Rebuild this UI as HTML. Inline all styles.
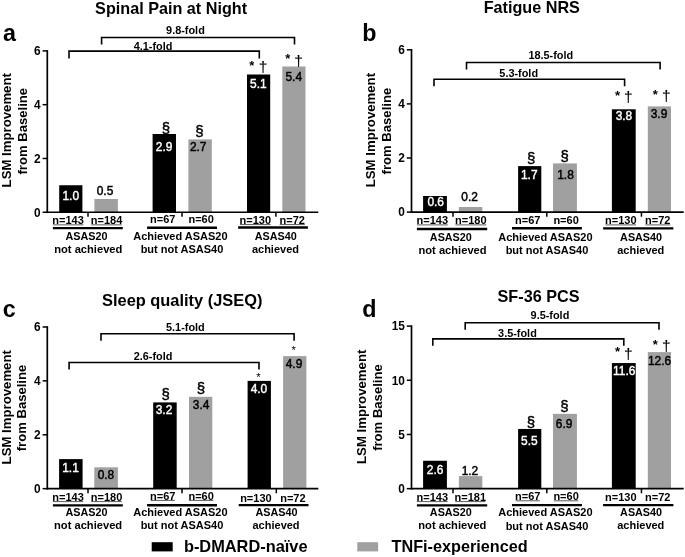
<!DOCTYPE html>
<html><head><meta charset="utf-8"><title>Figure</title>
<style>
html,body{margin:0;padding:0;background:#fff;}
svg{display:block;font-family:"Liberation Sans", Arial, Helvetica, sans-serif;}
</style></head>
<body>
<svg width="685" height="557" viewBox="0 0 685 557">
<rect width="685" height="557" fill="#fff"/>
<rect x="59.20" y="185.25" width="23.20" height="27.00" fill="#000"/>
<rect x="94.40" y="199.00" width="23.50" height="13.25" fill="#a0a0a0"/>
<rect x="152.60" y="134.00" width="23.40" height="78.25" fill="#000"/>
<rect x="188.40" y="139.40" width="23.40" height="72.85" fill="#a0a0a0"/>
<rect x="247.00" y="74.50" width="23.20" height="137.75" fill="#000"/>
<rect x="282.30" y="66.50" width="23.20" height="145.75" fill="#a0a0a0"/>
<text x="70.80" y="200.20" font-size="11.95" text-anchor="middle" fill="#fff" font-weight="normal" stroke="#fff" stroke-width="0.4">1.0</text>
<text x="105.00" y="194.80" font-size="11.95" text-anchor="middle" fill="#000" font-weight="normal" stroke="#000" stroke-width="0.45">0.5</text>
<text x="164.10" y="150.60" font-size="11.95" text-anchor="middle" fill="#fff" font-weight="normal" stroke="#fff" stroke-width="0.4">2.9</text>
<text x="198.20" y="150.80" font-size="11.95" text-anchor="middle" fill="#000" font-weight="normal" stroke="#000" stroke-width="0.45">2.7</text>
<text x="258.35" y="87.50" font-size="11.95" text-anchor="middle" fill="#fff" font-weight="normal" stroke="#fff" stroke-width="0.4">5.1</text>
<text x="293.75" y="80.90" font-size="11.95" text-anchor="middle" fill="#000" font-weight="normal" stroke="#000" stroke-width="0.45">5.4</text>
<text x="166.00" y="132.95" font-size="15.0" text-anchor="middle" fill="#000" font-weight="normal" stroke="#000" stroke-width="0.45">§</text>
<text x="199.30" y="135.65" font-size="15.0" text-anchor="middle" fill="#000" font-weight="normal" stroke="#000" stroke-width="0.45">§</text>
<text x="251.70" y="69.75" font-size="13" text-anchor="middle" fill="#000" font-weight="bold">*</text>
<text x="287.80" y="63.15" font-size="13" text-anchor="middle" fill="#000" font-weight="bold">*</text>
<text x="263.00" y="71.55" font-size="15.5" text-anchor="middle" fill="#000" font-weight="normal" stroke="#000" stroke-width="0.12">†</text>
<text x="298.50" y="65.55" font-size="15.5" text-anchor="middle" fill="#000" font-weight="normal" stroke="#000" stroke-width="0.12">†</text>
<line x1="47.30" y1="50.15" x2="47.30" y2="213.10" stroke="#000" stroke-width="1.7" stroke-linecap="butt"/>
<line x1="46.45" y1="212.25" x2="318.30" y2="212.25" stroke="#000" stroke-width="1.7" stroke-linecap="butt"/>
<line x1="42.60" y1="212.25" x2="47.30" y2="212.25" stroke="#000" stroke-width="1.5" stroke-linecap="butt"/>
<text transform="translate(40.70,216.85) scale(0.885,1)" font-size="13.4" text-anchor="end" font-weight="bold">0</text>
<line x1="42.60" y1="158.47" x2="47.30" y2="158.47" stroke="#000" stroke-width="1.5" stroke-linecap="butt"/>
<text transform="translate(40.70,162.90) scale(0.885,1)" font-size="13.4" text-anchor="end" font-weight="bold">2</text>
<line x1="42.60" y1="104.68" x2="47.30" y2="104.68" stroke="#000" stroke-width="1.5" stroke-linecap="butt"/>
<text transform="translate(40.70,108.95) scale(0.885,1)" font-size="13.4" text-anchor="end" font-weight="bold">4</text>
<line x1="42.60" y1="50.90" x2="47.30" y2="50.90" stroke="#000" stroke-width="1.5" stroke-linecap="butt"/>
<text transform="translate(40.70,55.00) scale(0.885,1)" font-size="13.4" text-anchor="end" font-weight="bold">6</text>
<line x1="88.00" y1="212.25" x2="88.00" y2="216.85" stroke="#000" stroke-width="1.5" stroke-linecap="butt"/>
<text x="68.10" y="224.30" font-size="11.0" text-anchor="middle" font-weight="bold">n=143</text>
<text x="106.50" y="224.30" font-size="11.0" text-anchor="middle" font-weight="bold">n=184</text>
<line x1="52.90" y1="224.85" x2="83.30" y2="224.85" stroke="#000" stroke-width="0.65" stroke-linecap="butt"/>
<line x1="91.20" y1="224.85" x2="121.80" y2="224.85" stroke="#000" stroke-width="0.65" stroke-linecap="butt"/>
<line x1="52.90" y1="228.15" x2="122.80" y2="228.15" stroke="#000" stroke-width="2.4" stroke-linecap="butt"/>
<text x="86.55" y="239.95" font-size="10.8" text-anchor="middle" fill="#000" font-weight="bold">ASAS20</text>
<text x="88.30" y="253.00" font-size="11.15" text-anchor="middle" fill="#000" font-weight="bold">not achieved</text>
<line x1="182.04" y1="212.25" x2="182.04" y2="216.85" stroke="#000" stroke-width="1.5" stroke-linecap="butt"/>
<text x="162.78" y="223.40" font-size="11.0" text-anchor="middle" font-weight="bold">n=67</text>
<text x="201.12" y="223.40" font-size="11.0" text-anchor="middle" font-weight="bold">n=60</text>
<line x1="147.10" y1="227.75" x2="217.00" y2="227.75" stroke="#000" stroke-width="2.4" stroke-linecap="butt"/>
<text x="180.40" y="239.55" font-size="11.0" text-anchor="middle" fill="#000" font-weight="bold">Achieved ASAS20</text>
<text x="182.00" y="252.75" font-size="11.0" text-anchor="middle" fill="#000" font-weight="bold">but not ASAS40</text>
<line x1="275.90" y1="212.25" x2="275.90" y2="216.85" stroke="#000" stroke-width="1.5" stroke-linecap="butt"/>
<text x="255.27" y="224.30" font-size="11.0" text-anchor="middle" font-weight="bold">n=130</text>
<text x="292.30" y="224.30" font-size="11.0" text-anchor="middle" font-weight="bold">n=72</text>
<line x1="239.85" y1="224.60" x2="270.70" y2="224.60" stroke="#000" stroke-width="0.65" stroke-linecap="butt"/>
<line x1="279.70" y1="224.60" x2="304.90" y2="224.60" stroke="#000" stroke-width="0.65" stroke-linecap="butt"/>
<line x1="238.10" y1="227.55" x2="307.90" y2="227.55" stroke="#000" stroke-width="2.4" stroke-linecap="butt"/>
<text x="275.80" y="239.55" font-size="10.8" text-anchor="middle" fill="#000" font-weight="bold">ASAS40</text>
<text x="275.45" y="252.75" font-size="11.0" text-anchor="middle" fill="#000" font-weight="bold">achieved</text>
<polyline points="69.00,58.60 69.00,51.10 259.30,51.10 259.30,58.60" fill="none" stroke="#000" stroke-width="1.6" stroke-linejoin="miter"/>
<text x="153.10" y="50.00" font-size="10.9" text-anchor="middle" fill="#000" font-weight="bold">4.1-fold</text>
<polyline points="101.60,44.50 101.60,37.50 294.50,37.50 294.50,44.50" fill="none" stroke="#000" stroke-width="1.6" stroke-linejoin="miter"/>
<text x="185.45" y="33.60" font-size="10.9" text-anchor="middle" fill="#000" font-weight="bold">9.8-fold</text>
<text x="171.10" y="13.60" font-size="16.2" text-anchor="middle" fill="#000" font-weight="bold">Spinal Pain at Night</text>
<text x="3.10" y="40.60" font-size="23.3" text-anchor="start" fill="#000" font-weight="bold">a</text>
<text transform="translate(11.10,130.25) rotate(-90)" font-size="13.2" text-anchor="middle" font-weight="bold">LSM Improvement</text>
<text transform="translate(26.65,131.25) rotate(-90)" font-size="13.1" text-anchor="middle" font-weight="bold">from Baseline</text>
<rect x="423.10" y="196.00" width="23.80" height="16.10" fill="#000"/>
<rect x="458.90" y="207.00" width="23.40" height="5.10" fill="#a0a0a0"/>
<rect x="518.10" y="166.10" width="23.20" height="46.00" fill="#000"/>
<rect x="553.00" y="163.40" width="23.90" height="48.70" fill="#a0a0a0"/>
<rect x="611.90" y="109.30" width="23.80" height="102.80" fill="#000"/>
<rect x="647.80" y="106.40" width="23.20" height="105.70" fill="#a0a0a0"/>
<text x="435.70" y="206.30" font-size="11.95" text-anchor="middle" fill="#fff" font-weight="normal" stroke="#fff" stroke-width="0.4">0.6</text>
<text x="469.60" y="200.50" font-size="11.95" text-anchor="middle" fill="#000" font-weight="normal" stroke="#000" stroke-width="0.45">0.2</text>
<text x="529.30" y="179.00" font-size="11.95" text-anchor="middle" fill="#fff" font-weight="normal" stroke="#fff" stroke-width="0.4">1.7</text>
<text x="565.50" y="178.80" font-size="11.95" text-anchor="middle" fill="#000" font-weight="normal" stroke="#000" stroke-width="0.45">1.8</text>
<text x="623.95" y="120.00" font-size="11.95" text-anchor="middle" fill="#fff" font-weight="normal" stroke="#fff" stroke-width="0.4">3.8</text>
<text x="659.00" y="118.00" font-size="11.95" text-anchor="middle" fill="#000" font-weight="normal" stroke="#000" stroke-width="0.45">3.9</text>
<text x="531.10" y="163.25" font-size="15.0" text-anchor="middle" fill="#000" font-weight="normal" stroke="#000" stroke-width="0.45">§</text>
<text x="564.60" y="160.85" font-size="15.0" text-anchor="middle" fill="#000" font-weight="normal" stroke="#000" stroke-width="0.45">§</text>
<text x="617.50" y="100.35" font-size="13" text-anchor="middle" fill="#000" font-weight="bold">*</text>
<text x="655.20" y="99.05" font-size="13" text-anchor="middle" fill="#000" font-weight="bold">*</text>
<text x="628.20" y="102.45" font-size="15.5" text-anchor="middle" fill="#000" font-weight="normal" stroke="#000" stroke-width="0.12">†</text>
<text x="666.30" y="100.85" font-size="15.5" text-anchor="middle" fill="#000" font-weight="normal" stroke="#000" stroke-width="0.12">†</text>
<line x1="411.50" y1="49.05" x2="411.50" y2="212.95" stroke="#000" stroke-width="1.7" stroke-linecap="butt"/>
<line x1="410.65" y1="212.10" x2="683.70" y2="212.10" stroke="#000" stroke-width="1.7" stroke-linecap="butt"/>
<line x1="406.80" y1="212.10" x2="411.50" y2="212.10" stroke="#000" stroke-width="1.5" stroke-linecap="butt"/>
<text transform="translate(404.90,216.45) scale(0.885,1)" font-size="13.4" text-anchor="end" font-weight="bold">0</text>
<line x1="406.80" y1="158.00" x2="411.50" y2="158.00" stroke="#000" stroke-width="1.5" stroke-linecap="butt"/>
<text transform="translate(404.90,162.18) scale(0.885,1)" font-size="13.4" text-anchor="end" font-weight="bold">2</text>
<line x1="406.80" y1="103.90" x2="411.50" y2="103.90" stroke="#000" stroke-width="1.5" stroke-linecap="butt"/>
<text transform="translate(404.90,107.92) scale(0.885,1)" font-size="13.4" text-anchor="end" font-weight="bold">4</text>
<line x1="406.80" y1="49.80" x2="411.50" y2="49.80" stroke="#000" stroke-width="1.5" stroke-linecap="butt"/>
<text transform="translate(404.90,53.65) scale(0.885,1)" font-size="13.4" text-anchor="end" font-weight="bold">6</text>
<line x1="453.00" y1="212.10" x2="453.00" y2="216.70" stroke="#000" stroke-width="1.5" stroke-linecap="butt"/>
<text x="432.30" y="224.20" font-size="11.0" text-anchor="middle" font-weight="bold">n=143</text>
<text x="470.80" y="224.20" font-size="11.0" text-anchor="middle" font-weight="bold">n=180</text>
<line x1="416.90" y1="224.90" x2="447.70" y2="224.90" stroke="#000" stroke-width="0.65" stroke-linecap="butt"/>
<line x1="455.40" y1="224.90" x2="486.20" y2="224.90" stroke="#000" stroke-width="0.65" stroke-linecap="butt"/>
<line x1="416.90" y1="229.00" x2="487.20" y2="229.00" stroke="#000" stroke-width="2.4" stroke-linecap="butt"/>
<text x="450.85" y="241.35" font-size="10.8" text-anchor="middle" fill="#000" font-weight="bold">ASAS20</text>
<text x="452.55" y="254.25" font-size="11.15" text-anchor="middle" fill="#000" font-weight="bold">not achieved</text>
<line x1="546.80" y1="212.10" x2="546.80" y2="216.70" stroke="#000" stroke-width="1.5" stroke-linecap="butt"/>
<text x="527.75" y="223.75" font-size="11.0" text-anchor="middle" font-weight="bold">n=67</text>
<text x="566.10" y="223.75" font-size="11.0" text-anchor="middle" font-weight="bold">n=60</text>
<line x1="512.00" y1="228.20" x2="581.90" y2="228.20" stroke="#000" stroke-width="2.4" stroke-linecap="butt"/>
<text x="545.40" y="241.10" font-size="11.0" text-anchor="middle" fill="#000" font-weight="bold">Achieved ASAS20</text>
<text x="547.00" y="254.00" font-size="11.0" text-anchor="middle" fill="#000" font-weight="bold">but not ASAS40</text>
<line x1="641.45" y1="212.10" x2="641.45" y2="216.70" stroke="#000" stroke-width="1.5" stroke-linecap="butt"/>
<text x="620.75" y="224.15" font-size="11.0" text-anchor="middle" font-weight="bold">n=130</text>
<text x="657.80" y="224.15" font-size="11.0" text-anchor="middle" font-weight="bold">n=72</text>
<line x1="605.50" y1="224.90" x2="636.00" y2="224.90" stroke="#000" stroke-width="0.65" stroke-linecap="butt"/>
<line x1="645.30" y1="224.90" x2="670.30" y2="224.90" stroke="#000" stroke-width="0.65" stroke-linecap="butt"/>
<line x1="603.10" y1="228.40" x2="673.40" y2="228.40" stroke="#000" stroke-width="2.4" stroke-linecap="butt"/>
<text x="641.10" y="240.95" font-size="10.8" text-anchor="middle" fill="#000" font-weight="bold">ASAS40</text>
<text x="640.80" y="253.95" font-size="11.0" text-anchor="middle" fill="#000" font-weight="bold">achieved</text>
<polyline points="434.00,86.20 434.00,79.20 624.60,79.20 624.60,86.20" fill="none" stroke="#000" stroke-width="1.6" stroke-linejoin="miter"/>
<text x="518.70" y="77.40" font-size="10.9" text-anchor="middle" fill="#000" font-weight="bold">5.3-fold</text>
<polyline points="466.50,69.50 466.50,62.50 660.10,62.50 660.10,69.50" fill="none" stroke="#000" stroke-width="1.6" stroke-linejoin="miter"/>
<text x="550.80" y="59.00" font-size="10.9" text-anchor="middle" fill="#000" font-weight="bold">18.5-fold</text>
<text x="531.80" y="13.20" font-size="16.2" text-anchor="middle" fill="#000" font-weight="bold">Fatigue NRS</text>
<text x="362.30" y="40.70" font-size="23.3" text-anchor="start" fill="#000" font-weight="bold">b</text>
<text transform="translate(374.60,130.10) rotate(-90)" font-size="13.2" text-anchor="middle" font-weight="bold">LSM Improvement</text>
<text transform="translate(390.90,131.10) rotate(-90)" font-size="13.1" text-anchor="middle" font-weight="bold">from Baseline</text>
<rect x="59.10" y="459.10" width="23.50" height="29.55" fill="#000"/>
<rect x="94.30" y="467.30" width="23.60" height="21.35" fill="#a0a0a0"/>
<rect x="153.20" y="402.40" width="23.50" height="86.25" fill="#000"/>
<rect x="189.00" y="396.80" width="23.30" height="91.85" fill="#a0a0a0"/>
<rect x="247.60" y="380.90" width="23.30" height="107.75" fill="#000"/>
<rect x="283.10" y="356.10" width="23.30" height="132.55" fill="#a0a0a0"/>
<text x="70.55" y="471.80" font-size="11.95" text-anchor="middle" fill="#fff" font-weight="normal" stroke="#fff" stroke-width="0.4">1.1</text>
<text x="105.95" y="479.40" font-size="11.95" text-anchor="middle" fill="#000" font-weight="normal" stroke="#000" stroke-width="0.45">0.8</text>
<text x="164.00" y="414.30" font-size="11.95" text-anchor="middle" fill="#fff" font-weight="normal" stroke="#fff" stroke-width="0.4">3.2</text>
<text x="201.10" y="409.00" font-size="11.95" text-anchor="middle" fill="#000" font-weight="normal" stroke="#000" stroke-width="0.45">3.4</text>
<text x="258.95" y="392.90" font-size="11.95" text-anchor="middle" fill="#fff" font-weight="normal" stroke="#fff" stroke-width="0.4">4.0</text>
<text x="294.00" y="368.40" font-size="11.95" text-anchor="middle" fill="#000" font-weight="normal" stroke="#000" stroke-width="0.45">4.9</text>
<text x="165.60" y="398.65" font-size="15.0" text-anchor="middle" fill="#000" font-weight="normal" stroke="#000" stroke-width="0.45">§</text>
<text x="200.80" y="392.75" font-size="15.0" text-anchor="middle" fill="#000" font-weight="normal" stroke="#000" stroke-width="0.45">§</text>
<text x="258.40" y="380.89" font-size="11.3" text-anchor="middle" fill="#000" font-weight="normal">*</text>
<text x="293.80" y="354.49" font-size="11.3" text-anchor="middle" fill="#000" font-weight="normal">*</text>
<line x1="47.30" y1="326.25" x2="47.30" y2="489.50" stroke="#000" stroke-width="1.7" stroke-linecap="butt"/>
<line x1="46.45" y1="488.65" x2="318.30" y2="488.65" stroke="#000" stroke-width="1.7" stroke-linecap="butt"/>
<line x1="42.60" y1="488.65" x2="47.30" y2="488.65" stroke="#000" stroke-width="1.5" stroke-linecap="butt"/>
<text transform="translate(40.70,493.00) scale(0.885,1)" font-size="13.4" text-anchor="end" font-weight="bold">0</text>
<line x1="42.60" y1="434.77" x2="47.30" y2="434.77" stroke="#000" stroke-width="1.5" stroke-linecap="butt"/>
<text transform="translate(40.70,438.95) scale(0.885,1)" font-size="13.4" text-anchor="end" font-weight="bold">2</text>
<line x1="42.60" y1="380.88" x2="47.30" y2="380.88" stroke="#000" stroke-width="1.5" stroke-linecap="butt"/>
<text transform="translate(40.70,384.90) scale(0.885,1)" font-size="13.4" text-anchor="end" font-weight="bold">4</text>
<line x1="42.60" y1="327.00" x2="47.30" y2="327.00" stroke="#000" stroke-width="1.5" stroke-linecap="butt"/>
<text transform="translate(40.70,330.85) scale(0.885,1)" font-size="13.4" text-anchor="end" font-weight="bold">6</text>
<line x1="88.00" y1="488.65" x2="88.00" y2="493.25" stroke="#000" stroke-width="1.5" stroke-linecap="butt"/>
<text x="68.10" y="500.85" font-size="11.0" text-anchor="middle" font-weight="bold">n=143</text>
<text x="106.50" y="500.85" font-size="11.0" text-anchor="middle" font-weight="bold">n=180</text>
<line x1="52.90" y1="501.60" x2="83.30" y2="501.60" stroke="#000" stroke-width="0.65" stroke-linecap="butt"/>
<line x1="91.20" y1="501.60" x2="121.80" y2="501.60" stroke="#000" stroke-width="0.65" stroke-linecap="butt"/>
<line x1="52.90" y1="505.35" x2="122.80" y2="505.35" stroke="#000" stroke-width="2.4" stroke-linecap="butt"/>
<text x="86.55" y="516.10" font-size="10.8" text-anchor="middle" fill="#000" font-weight="bold">ASAS20</text>
<text x="88.10" y="529.20" font-size="11.15" text-anchor="middle" fill="#000" font-weight="bold">not achieved</text>
<line x1="182.04" y1="488.65" x2="182.04" y2="493.25" stroke="#000" stroke-width="1.5" stroke-linecap="butt"/>
<text x="162.78" y="499.70" font-size="11.0" text-anchor="middle" font-weight="bold">n=67</text>
<text x="201.12" y="499.70" font-size="11.0" text-anchor="middle" font-weight="bold">n=60</text>
<line x1="150.75" y1="500.40" x2="174.80" y2="500.40" stroke="#000" stroke-width="0.65" stroke-linecap="butt"/>
<line x1="188.90" y1="500.40" x2="213.35" y2="500.40" stroke="#000" stroke-width="0.65" stroke-linecap="butt"/>
<line x1="147.10" y1="505.25" x2="217.00" y2="505.25" stroke="#000" stroke-width="2.4" stroke-linecap="butt"/>
<text x="180.40" y="516.10" font-size="11.0" text-anchor="middle" fill="#000" font-weight="bold">Achieved ASAS20</text>
<text x="182.00" y="528.95" font-size="11.0" text-anchor="middle" fill="#000" font-weight="bold">but not ASAS40</text>
<line x1="276.32" y1="488.65" x2="276.32" y2="493.25" stroke="#000" stroke-width="1.5" stroke-linecap="butt"/>
<text x="255.88" y="501.55" font-size="11.0" text-anchor="middle" font-weight="bold">n=130</text>
<text x="292.90" y="501.55" font-size="11.0" text-anchor="middle" font-weight="bold">n=72</text>
<line x1="238.70" y1="505.10" x2="308.50" y2="505.10" stroke="#000" stroke-width="2.4" stroke-linecap="butt"/>
<text x="276.40" y="516.35" font-size="10.8" text-anchor="middle" fill="#000" font-weight="bold">ASAS40</text>
<text x="276.05" y="529.35" font-size="11.0" text-anchor="middle" fill="#000" font-weight="bold">achieved</text>
<polyline points="69.10,369.50 69.10,362.50 259.00,362.50 259.00,369.50" fill="none" stroke="#000" stroke-width="1.6" stroke-linejoin="miter"/>
<text x="153.00" y="359.50" font-size="10.9" text-anchor="middle" fill="#000" font-weight="bold">2.6-fold</text>
<polyline points="101.00,340.70 101.00,333.70 294.10,333.70 294.10,340.70" fill="none" stroke="#000" stroke-width="1.6" stroke-linejoin="miter"/>
<text x="185.40" y="330.50" font-size="10.9" text-anchor="middle" fill="#000" font-weight="bold">5.1-fold</text>
<text x="182.20" y="306.20" font-size="16.4" text-anchor="middle" fill="#000" font-weight="bold">Sleep quality (JSEQ)</text>
<text x="2.70" y="316.50" font-size="23.3" text-anchor="start" fill="#000" font-weight="bold">c</text>
<text transform="translate(10.70,407.25) rotate(-90)" font-size="13.2" text-anchor="middle" font-weight="bold">LSM Improvement</text>
<text transform="translate(26.15,408.01) rotate(-90)" font-size="13.1" text-anchor="middle" font-weight="bold">from Baseline</text>
<rect x="423.10" y="460.75" width="23.80" height="27.90" fill="#000"/>
<rect x="458.90" y="476.10" width="23.40" height="12.55" fill="#a0a0a0"/>
<rect x="518.10" y="428.95" width="23.20" height="59.70" fill="#000"/>
<rect x="553.00" y="413.85" width="23.90" height="74.80" fill="#a0a0a0"/>
<rect x="611.90" y="363.05" width="23.80" height="125.60" fill="#000"/>
<rect x="647.80" y="352.10" width="23.20" height="136.55" fill="#a0a0a0"/>
<text x="435.10" y="473.95" font-size="11.95" text-anchor="middle" fill="#fff" font-weight="normal" stroke="#fff" stroke-width="0.4">2.6</text>
<text x="469.95" y="474.80" font-size="11.95" text-anchor="middle" fill="#000" font-weight="normal" stroke="#000" stroke-width="0.45">1.2</text>
<text x="529.40" y="444.70" font-size="11.95" text-anchor="middle" fill="#fff" font-weight="normal" stroke="#fff" stroke-width="0.4">5.5</text>
<text x="564.15" y="428.10" font-size="11.95" text-anchor="middle" fill="#000" font-weight="normal" stroke="#000" stroke-width="0.45">6.9</text>
<text x="624.30" y="375.00" font-size="11.95" text-anchor="middle" fill="#fff" font-weight="normal" stroke="#fff" stroke-width="0.4">11.6</text>
<text x="659.55" y="364.95" font-size="11.95" text-anchor="middle" fill="#000" font-weight="normal" stroke="#000" stroke-width="0.45">12.6</text>
<text x="530.80" y="427.15" font-size="15.0" text-anchor="middle" fill="#000" font-weight="normal" stroke="#000" stroke-width="0.45">§</text>
<text x="564.40" y="411.45" font-size="15.0" text-anchor="middle" fill="#000" font-weight="normal" stroke="#000" stroke-width="0.45">§</text>
<text x="617.50" y="356.35" font-size="13" text-anchor="middle" fill="#000" font-weight="bold">*</text>
<text x="655.20" y="348.55" font-size="13" text-anchor="middle" fill="#000" font-weight="bold">*</text>
<text x="628.20" y="358.55" font-size="15.5" text-anchor="middle" fill="#000" font-weight="normal" stroke="#000" stroke-width="0.12">†</text>
<text x="666.30" y="350.90" font-size="15.5" text-anchor="middle" fill="#000" font-weight="normal" stroke="#000" stroke-width="0.12">†</text>
<line x1="411.50" y1="325.35" x2="411.50" y2="489.50" stroke="#000" stroke-width="1.7" stroke-linecap="butt"/>
<line x1="410.65" y1="488.65" x2="683.70" y2="488.65" stroke="#000" stroke-width="1.7" stroke-linecap="butt"/>
<line x1="406.80" y1="488.65" x2="411.50" y2="488.65" stroke="#000" stroke-width="1.5" stroke-linecap="butt"/>
<text transform="translate(404.90,493.35) scale(0.885,1)" font-size="13.4" text-anchor="end" font-weight="bold">0</text>
<line x1="406.80" y1="434.47" x2="411.50" y2="434.47" stroke="#000" stroke-width="1.5" stroke-linecap="butt"/>
<text transform="translate(404.90,439.00) scale(0.885,1)" font-size="13.4" text-anchor="end" font-weight="bold">5</text>
<line x1="406.80" y1="380.28" x2="411.50" y2="380.28" stroke="#000" stroke-width="1.5" stroke-linecap="butt"/>
<text transform="translate(404.90,384.65) scale(0.885,1)" font-size="13.4" text-anchor="end" font-weight="bold">10</text>
<line x1="406.80" y1="326.10" x2="411.50" y2="326.10" stroke="#000" stroke-width="1.5" stroke-linecap="butt"/>
<text transform="translate(404.90,330.30) scale(0.885,1)" font-size="13.4" text-anchor="end" font-weight="bold">15</text>
<line x1="453.00" y1="488.65" x2="453.00" y2="493.25" stroke="#000" stroke-width="1.5" stroke-linecap="butt"/>
<text x="432.30" y="500.90" font-size="11.0" text-anchor="middle" font-weight="bold">n=143</text>
<text x="470.35" y="500.90" font-size="11.0" text-anchor="middle" font-weight="bold">n=181</text>
<line x1="416.90" y1="501.60" x2="447.70" y2="501.60" stroke="#000" stroke-width="0.65" stroke-linecap="butt"/>
<line x1="455.40" y1="501.60" x2="485.30" y2="501.60" stroke="#000" stroke-width="0.65" stroke-linecap="butt"/>
<line x1="416.90" y1="505.35" x2="487.20" y2="505.35" stroke="#000" stroke-width="2.4" stroke-linecap="butt"/>
<text x="450.85" y="516.30" font-size="10.8" text-anchor="middle" fill="#000" font-weight="bold">ASAS20</text>
<text x="452.35" y="529.20" font-size="11.15" text-anchor="middle" fill="#000" font-weight="bold">not achieved</text>
<line x1="546.80" y1="488.65" x2="546.80" y2="493.25" stroke="#000" stroke-width="1.5" stroke-linecap="butt"/>
<text x="527.75" y="499.80" font-size="11.0" text-anchor="middle" font-weight="bold">n=67</text>
<text x="566.10" y="499.80" font-size="11.0" text-anchor="middle" font-weight="bold">n=60</text>
<line x1="515.70" y1="500.80" x2="539.80" y2="500.80" stroke="#000" stroke-width="0.65" stroke-linecap="butt"/>
<line x1="553.90" y1="500.80" x2="578.30" y2="500.80" stroke="#000" stroke-width="0.65" stroke-linecap="butt"/>
<line x1="512.00" y1="505.10" x2="581.90" y2="505.10" stroke="#000" stroke-width="2.4" stroke-linecap="butt"/>
<text x="545.40" y="515.95" font-size="11.0" text-anchor="middle" fill="#000" font-weight="bold">Achieved ASAS20</text>
<text x="547.00" y="529.60" font-size="11.0" text-anchor="middle" fill="#000" font-weight="bold">but not ASAS40</text>
<line x1="641.45" y1="488.65" x2="641.45" y2="493.25" stroke="#000" stroke-width="1.5" stroke-linecap="butt"/>
<text x="620.75" y="501.30" font-size="11.0" text-anchor="middle" font-weight="bold">n=130</text>
<text x="657.80" y="501.30" font-size="11.0" text-anchor="middle" font-weight="bold">n=72</text>
<line x1="603.10" y1="505.10" x2="673.40" y2="505.10" stroke="#000" stroke-width="2.4" stroke-linecap="butt"/>
<text x="641.10" y="515.95" font-size="10.8" text-anchor="middle" fill="#000" font-weight="bold">ASAS40</text>
<text x="640.80" y="529.35" font-size="11.0" text-anchor="middle" fill="#000" font-weight="bold">achieved</text>
<polyline points="432.80,345.70 432.80,338.90 623.80,338.90 623.80,345.70" fill="none" stroke="#000" stroke-width="1.6" stroke-linejoin="miter"/>
<text x="517.45" y="336.80" font-size="10.9" text-anchor="middle" fill="#000" font-weight="bold">3.5-fold</text>
<polyline points="465.20,329.80 465.20,322.80 659.00,322.80 659.00,329.80" fill="none" stroke="#000" stroke-width="1.6" stroke-linejoin="miter"/>
<text x="549.95" y="319.40" font-size="10.9" text-anchor="middle" fill="#000" font-weight="bold">9.5-fold</text>
<text x="538.50" y="302.30" font-size="16.2" text-anchor="middle" fill="#000" font-weight="bold">SF-36 PCS</text>
<text x="362.30" y="316.90" font-size="23.3" text-anchor="start" fill="#000" font-weight="bold">d</text>
<text transform="translate(366.20,406.80) rotate(-90)" font-size="13.2" text-anchor="middle" font-weight="bold">LSM Improvement</text>
<text transform="translate(382.40,407.56) rotate(-90)" font-size="13.1" text-anchor="middle" font-weight="bold">from Baseline</text>
<rect x="151.7" y="542.2" width="21.0" height="9.2" fill="#000"/>
<text x="183.90" y="551.70" font-size="16.36" text-anchor="start" fill="#000" font-weight="bold">b-DMARD-naïve</text>
<rect x="357.3" y="542.2" width="20.8" height="9.2" fill="#a0a0a0"/>
<text x="391.50" y="551.70" font-size="16.24" text-anchor="start" fill="#000" font-weight="bold">TNFi-experienced</text>
</svg>
</body></html>
